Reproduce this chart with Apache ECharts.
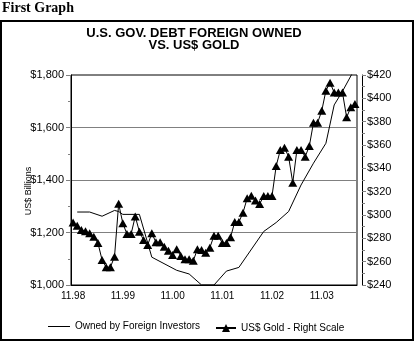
<!DOCTYPE html>
<html>
<head>
<meta charset="utf-8">
<script src="https://cdn.jsdelivr.net/npm/echarts@6/dist/echarts.min.js"></script>
<style>
html,body{margin:0;padding:0;background:#fff;}
#chart{width:416px;height:343px;}
</style>
</head>
<body>
<div id="chart"></div>
<script>
// Month categories (M.YY), Nov 1998 .. Jul 2004
const months = [
  "11.98","12.98","1.99","2.99","3.99","4.99","5.99","6.99","7.99","8.99","9.99","10.99",
  "11.99","12.99","1.00","2.00","3.00","4.00","5.00","6.00","7.00","8.00","9.00","10.00",
  "11.00","12.00","1.01","2.01","3.01","4.01","5.01","6.01","7.01","8.01","9.01","10.01",
  "11.01","12.01","1.02","2.02","3.02","4.02","5.02","6.02","7.02","8.02","9.02","10.02",
  "11.02","12.02","1.03","2.03","3.03","4.03","5.03","6.03","7.03","8.03","9.03","10.03",
  "11.03","12.03","1.04","2.04","3.04","4.04","5.04","6.04","7.04"
];

// US$ gold price (right scale)
const gold = [
  293.5, 290.8, 287.1, 286.0, 284.3, 281.4, 276.0, 261.4, 255.2, 255.2, 264.3, 309.7,
  292.9, 283.7, 283.7, 298.8, 285.7, 278.6, 274.3, 284.3, 276.6, 276.6, 272.8, 269.4,
  265.7, 270.6, 264.9, 262.0, 262.0, 260.8, 270.6, 270.0, 267.7, 272.0, 282.3, 282.3,
  276.0, 276.0, 281.0, 294.0, 294.0, 302.0, 314.3, 316.5, 312.5, 309.4, 316.3, 316.3,
  316.3, 342.0, 355.7, 357.7, 350.0, 327.7, 355.7, 355.7, 350.0, 359.1, 379.1, 379.1,
  389.4, 406.6, 413.4, 404.9, 405.1, 404.9, 383.7, 392.3, 395.1
];

// US government debt owned by foreign investors, US$ billions (left scale); null = no reading
const debt = [
  null, 1278, null, null, 1278, null, null, 1262, null, null, 1284, 1280,
  1269, null, null, null, 1269, null, null, 1106, null, null, null, null,
  null, 1056, null, null, 1042, null, null, 1000, null, null, 1000, null,
  null, 1053, null, null, 1067, null, null, null, null, null, 1204, null,
  null, 1238, null, null, 1280, null, null, 1381, null, null, 1464, null,
  null, 1540, null, 1686, null, 1738, null, 1796, 1825
];

const leftTicks = { min: 1000, max: 1800, step: 200 };
const rightTicks = { min: 240, max: 420, step: 20 };

const FONT = '"Liberation Sans", Arial, sans-serif';
const chart = echarts.init(document.getElementById('chart'), null, { renderer: 'canvas' });

const option = {
  animation: false,
  backgroundColor: '#ffffff',
  textStyle: { fontFamily: FONT, color: '#000' },
  grid: { left: 71, right: 59, top: 75, bottom: 58, show: true, borderColor: '#000', borderWidth: 1, backgroundColor: 'transparent' },
  xAxis: {
    type: 'category',
    data: months,
    boundaryGap: true,
    axisLine: { show: true, lineStyle: { color: '#000', width: 1 } },
    axisTick: { show: false },
    axisLabel: { interval: 11, color: '#000', fontSize: 10, margin: 6, fontFamily: FONT },
    splitLine: { show: false }
  },
  yAxis: [
    {
      type: 'value', position: 'left',
      min: leftTicks.min, max: leftTicks.max, interval: leftTicks.step,
      axisLine: { show: true, lineStyle: { color: '#000' } },
      axisTick: { show: true, length: 5, lineStyle: { color: '#808080' } },
      minorTick: { show: true, splitNumber: 2, length: 3, lineStyle: { color: '#808080' } },
      axisLabel: { color: '#000', fontSize: 11, margin: 7, fontFamily: FONT,
        formatter: v => '$' + v.toLocaleString('en-US') },
      splitLine: { show: true, lineStyle: { color: ['rgba(0,0,0,0)', '#808080', '#808080', '#808080', 'rgba(0,0,0,0)'], width: 1 } }
    },
    {
      type: 'value', position: 'right', offset: 5,
      min: rightTicks.min, max: rightTicks.max, interval: rightTicks.step,
      axisLine: { show: true, lineStyle: { color: '#000' } },
      axisTick: { show: true, length: 4, lineStyle: { color: '#808080' } },
      minorTick: { show: true, splitNumber: 2, length: 3, lineStyle: { color: '#808080' } },
      axisLabel: { color: '#000', fontSize: 11, margin: 5, fontFamily: FONT, formatter: v => '$' + v },
      splitLine: { show: false }
    }
  ],
  legend: [
    {
      data: [{ name: 'Owned by Foreign Investors', icon: 'rect' }], left: 43, top: 316.5,
      itemWidth: 22, itemHeight: 1,
      itemStyle: { color: '#000', borderWidth: 0 },
      textStyle: { fontSize: 10, color: '#000', fontFamily: FONT }
    },
    {
      data: ['US$ Gold - Right Scale'], left: 210, top: 318,
      itemWidth: 20, itemHeight: 10,
      textStyle: { fontSize: 10, color: '#000', fontFamily: FONT }
    }
  ],
  series: [
    {
      name: 'Owned by Foreign Investors', type: 'line', yAxisIndex: 0,
      data: debt, connectNulls: true, symbol: 'none',
      lineStyle: { color: '#000', width: 1 }, itemStyle: { color: '#000' }
    },
    {
      name: 'US$ Gold - Right Scale', type: 'line', yAxisIndex: 1,
      data: gold, symbol: 'triangle', symbolSize: [9, 8], showAllSymbol: true,
      lineStyle: { color: '#000', width: 1 }, itemStyle: { color: '#000' }
    }
  ],
  graphic: [
    { type: 'rect', shape: { x: 1, y: 21, width: 412, height: 319 },
      style: { fill: 'none', stroke: '#000', lineWidth: 2 }, z: -1 },
    { type: 'text', x: 2, y: 8,
      style: { text: 'First Graph', font: 'bold 14px "Liberation Serif", "Times New Roman", serif', fill: '#000', textAlign: 'left', textVerticalAlign: 'middle' } },
    { type: 'text', x: 194, y: 33.5,
      style: { text: 'U.S. GOV. DEBT FOREIGN OWNED', font: 'bold 13px ' + FONT, fill: '#000', textAlign: 'center', textVerticalAlign: 'middle' } },
    { type: 'text', x: 194, y: 45.5,
      style: { text: 'VS. US$ GOLD', font: 'bold 13px ' + FONT, fill: '#000', textAlign: 'center', textVerticalAlign: 'middle' } },
    { type: 'text', x: 29, y: 191, rotation: Math.PI / 2,
      style: { text: 'US$ Billions', font: '9px ' + FONT, fill: '#000', textAlign: 'center', textVerticalAlign: 'middle' } }
  ]
};
chart.setOption(option);
</script>
</body>
</html>
